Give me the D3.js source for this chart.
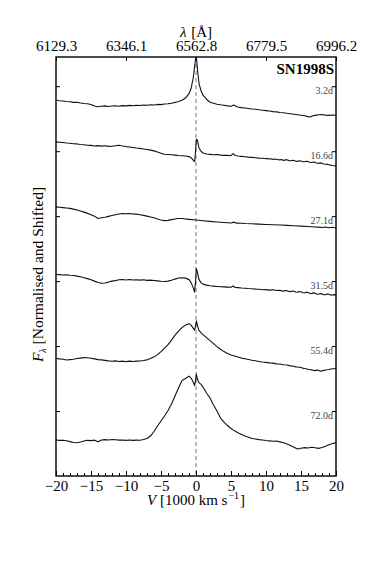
<!DOCTYPE html>
<html>
<head>
<meta charset="utf-8">
<script src="https://cdn.jsdelivr.net/npm/d3@7"></script>
<style>
  html, body { margin: 0; padding: 0; background: #fff; }
  svg text { font-family: "Liberation Serif", "Times New Roman", Times, serif; }
</style>
</head>
<body>
<svg id="chart" width="374" height="561"></svg>
<script>
// velocity in 1000 km/s, flux normalised and shifted (one unit per offset step)
const spec3d2 = [[-20,5.785],[-19.5,5.777],[-19,5.772],[-18.5,5.766],[-18,5.762],[-17.5,5.751],[-17,5.754],[-16.5,5.742],[-16,5.735],[-15.5,5.731],[-15,5.720],[-14.5,5.695],[-14,5.685],[-13.5,5.692],[-13,5.698],[-12.5,5.689],[-12,5.695],[-11.5,5.700],[-11,5.692],[-10.5,5.702],[-10,5.697],[-9.5,5.705],[-9,5.700],[-8.5,5.708],[-8,5.703],[-7.5,5.711],[-7,5.706],[-6.5,5.715],[-6,5.711],[-5.5,5.720],[-5,5.717],[-4.5,5.726],[-4,5.731],[-3.5,5.738],[-3,5.751],[-2.5,5.766],[-2,5.785],[-1.5,5.818],[-1,5.885],[-0.7,5.969],[-0.4,6.123],[-0.2,6.308],[-0.05,6.431],[0.1,6.400],[0.25,6.215],[0.45,6.031],[0.7,5.938],[1,5.862],[1.5,5.800],[2,5.754],[2.5,5.738],[3,5.723],[3.5,5.714],[4,5.708],[4.5,5.698],[5,5.692],[5.4,5.711],[5.8,5.688],[6,5.680],[6.5,5.671],[7,5.665],[7.5,5.657],[8,5.649],[8.5,5.646],[9,5.637],[9.5,5.631],[10,5.625],[10.5,5.618],[11,5.609],[11.5,5.605],[12,5.595],[12.5,5.591],[13,5.583],[13.5,5.577],[14,5.569],[14.5,5.562],[15,5.554],[15.5,5.545],[16,5.532],[16.3,5.526],[16.6,5.542],[17,5.551],[17.5,5.560],[18,5.565],[18.5,5.555],[19,5.551],[19.5,5.557],[20,5.554]];
const spec16d6 = [[-20,5.143],[-19.5,5.138],[-19,5.134],[-18.5,5.126],[-18,5.123],[-17.5,5.115],[-17,5.112],[-16.5,5.103],[-16,5.100],[-15.5,5.092],[-15,5.089],[-14.5,5.080],[-14,5.086],[-13.5,5.078],[-13,5.083],[-12.5,5.074],[-12,5.077],[-11.5,5.085],[-11,5.091],[-10.5,5.080],[-10,5.071],[-9.5,5.065],[-9,5.057],[-8.5,5.049],[-8,5.043],[-7.5,5.034],[-7,5.026],[-6.5,5.017],[-6,5.005],[-5.5,4.988],[-5,4.969],[-4.5,4.954],[-4,4.949],[-3.5,4.945],[-3,4.940],[-2.5,4.934],[-2,4.931],[-1.5,4.926],[-1,4.917],[-0.7,4.900],[-0.4,4.862],[-0.2,4.838],[-0.05,5.015],[0.05,5.185],[0.2,5.169],[0.4,5.062],[0.7,5.000],[1,4.972],[1.5,4.957],[2,4.951],[2.5,4.945],[3,4.948],[3.5,4.940],[4,4.935],[4.5,4.937],[5,4.931],[5.3,4.962],[5.6,4.934],[6,4.926],[6.5,4.920],[7,4.915],[7.5,4.909],[8,4.905],[8.5,4.900],[9,4.894],[9.5,4.891],[10,4.883],[10.25,4.889],[10.5,4.880],[10.75,4.884],[11,4.872],[11.25,4.879],[11.5,4.875],[11.75,4.868],[12,4.866],[12.25,4.872],[12.5,4.858],[12.75,4.866],[13,4.869],[13.25,4.855],[13.5,4.852],[13.75,4.861],[14,4.857],[14.25,4.846],[14.5,4.843],[14.75,4.852],[15,4.848],[15.25,4.838],[15.5,4.837],[15.75,4.845],[16,4.840],[16.25,4.829],[16.5,4.825],[16.75,4.834],[17,4.829],[17.25,4.818],[17.5,4.812],[17.75,4.820],[18,4.815],[18.25,4.804],[18.5,4.800],[18.75,4.797],[19,4.791],[19.25,4.786],[19.5,4.780],[19.75,4.776],[20,4.769]];
const spec27d1 = [[-20,4.143],[-19.5,4.138],[-19,4.132],[-18.5,4.126],[-18,4.120],[-17.5,4.108],[-17,4.095],[-16.5,4.080],[-16,4.062],[-15.5,4.043],[-15,4.023],[-14.5,4.000],[-14,3.965],[-13.5,3.975],[-13,3.982],[-12.5,3.997],[-12,4.011],[-11.5,4.022],[-11,4.034],[-10.5,4.040],[-10,4.037],[-9.5,4.042],[-9,4.034],[-8.5,4.031],[-8,4.022],[-7.5,4.012],[-7,4.000],[-6.5,3.988],[-6,3.975],[-5.5,3.957],[-5,3.942],[-4.5,3.931],[-4,3.935],[-3.5,3.946],[-3,3.957],[-2.5,3.965],[-2,3.963],[-1,3.951],[0,3.940],[1,3.929],[2,3.920],[3,3.911],[4,3.903],[5,3.895],[5.4,3.908],[5.8,3.892],[6.5,3.891],[7,3.886],[8,3.883],[9,3.877],[10,3.872],[11,3.868],[12,3.863],[13,3.858],[14,3.852],[15,3.846],[16,3.840],[17,3.834],[17.5,3.831],[18,3.826],[18.5,3.834],[19,3.822],[19.5,3.828],[20,3.818]];
const spec31d5 = [[-20,3.103],[-19.5,3.100],[-19,3.095],[-18.5,3.098],[-18,3.091],[-17.5,3.086],[-17,3.077],[-16.5,3.066],[-16,3.052],[-15.5,3.038],[-15,3.022],[-14.5,3.000],[-14,2.980],[-13.5,2.966],[-13,2.972],[-12.5,2.985],[-12,3.000],[-11.5,3.008],[-11,3.022],[-10.5,3.026],[-10,3.018],[-9.5,3.025],[-9,3.017],[-8.5,3.022],[-8,3.015],[-7.5,3.020],[-7,3.012],[-6.5,3.015],[-6,3.009],[-5.5,3.003],[-5,2.997],[-4.5,2.995],[-4,3.000],[-3.5,3.012],[-3,3.031],[-2.5,3.048],[-2,3.052],[-1.5,3.046],[-1,3.023],[-0.7,2.977],[-0.4,2.900],[-0.2,2.831],[-0.05,3.015],[0.05,3.192],[0.2,3.138],[0.4,3.031],[0.7,2.977],[1,2.954],[1.5,2.938],[2,2.929],[2.5,2.923],[3,2.918],[3.5,2.914],[4,2.911],[4.5,2.908],[5,2.905],[5.3,2.925],[5.6,2.902],[6,2.900],[6.5,2.894],[7,2.891],[7.5,2.886],[8,2.883],[8.5,2.877],[9,2.874],[9.5,2.868],[10,2.869],[10.5,2.862],[11,2.868],[11.5,2.855],[12,2.858],[12.25,2.850],[12.5,2.846],[12.75,2.855],[13,2.852],[13.25,2.840],[13.5,2.838],[13.75,2.849],[14,2.845],[14.25,2.832],[14.5,2.828],[14.75,2.840],[15,2.837],[15.25,2.822],[15.5,2.818],[15.75,2.830],[16,2.825],[16.25,2.812],[16.5,2.808],[16.75,2.819],[17,2.814],[17.25,2.800],[17.5,2.797],[17.75,2.808],[18,2.803],[18.25,2.790],[18.5,2.792],[18.75,2.801],[19,2.797],[19.25,2.785],[19.5,2.786],[19.75,2.792],[20,2.785]];
const spec55d4 = [[-20,1.811],[-19.5,1.803],[-19,1.797],[-18.5,1.785],[-18,1.791],[-17.5,1.797],[-17,1.808],[-16.5,1.815],[-16,1.822],[-15.5,1.820],[-15,1.812],[-14.5,1.803],[-14,1.792],[-13.5,1.788],[-13,1.780],[-12.5,1.772],[-12,1.766],[-11.5,1.772],[-11,1.762],[-10.5,1.769],[-10,1.760],[-9.5,1.768],[-9,1.762],[-8.5,1.769],[-8,1.771],[-7.5,1.777],[-7,1.788],[-6.5,1.808],[-6,1.834],[-5.5,1.868],[-5,1.915],[-4.5,1.969],[-4,2.023],[-3.5,2.092],[-3,2.169],[-2.5,2.231],[-2,2.285],[-1.5,2.323],[-1,2.345],[-0.7,2.323],[-0.4,2.277],[-0.2,2.246],[-0.05,2.308],[0.05,2.388],[0.2,2.323],[0.4,2.246],[0.7,2.208],[1,2.177],[1.5,2.131],[2,2.085],[2.5,2.038],[3,1.992],[3.5,1.951],[4,1.915],[4.5,1.885],[5,1.862],[5.5,1.846],[6,1.831],[6.5,1.815],[7,1.805],[7.5,1.794],[8,1.782],[8.5,1.774],[9,1.763],[9.5,1.755],[10,1.749],[10.5,1.742],[11,1.737],[11.5,1.726],[12,1.723],[12.5,1.712],[13,1.708],[13.5,1.695],[14,1.689],[14.25,1.680],[14.5,1.677],[14.75,1.674],[15,1.669],[15.25,1.660],[15.5,1.655],[15.75,1.651],[16,1.643],[16.25,1.640],[16.5,1.634],[16.75,1.629],[17,1.622],[17.25,1.630],[17.5,1.628],[17.75,1.614],[18,1.618],[18.25,1.626],[18.5,1.631],[18.75,1.635],[19,1.640],[19.25,1.646],[19.5,1.652],[19.75,1.650],[20,1.657]];
const spec72d0 = [[-20,0.554],[-19.5,0.548],[-19,0.551],[-18.5,0.542],[-18,0.529],[-17.5,0.515],[-17,0.511],[-16.5,0.523],[-16,0.538],[-15.5,0.549],[-15,0.545],[-14.5,0.552],[-14,0.526],[-13.5,0.554],[-13,0.560],[-12.5,0.555],[-12,0.562],[-11.5,0.557],[-11,0.552],[-10.5,0.555],[-10,0.549],[-9.5,0.554],[-9,0.548],[-8.5,0.552],[-8,0.551],[-7.5,0.562],[-7,0.577],[-6.5,0.615],[-6,0.685],[-5.5,0.769],[-5,0.846],[-4.5,0.923],[-4,1.008],[-3.5,1.108],[-3,1.231],[-2.5,1.354],[-2,1.469],[-1.5,1.500],[-1,1.538],[-0.7,1.508],[-0.4,1.446],[-0.2,1.392],[-0.05,1.477],[0.05,1.566],[0.2,1.492],[0.4,1.438],[0.7,1.415],[1,1.369],[1.5,1.277],[2,1.200],[2.5,1.092],[3,1.000],[3.5,0.892],[4,0.831],[4.5,0.777],[5,0.731],[5.5,0.695],[6,0.665],[6.5,0.638],[7,0.615],[7.5,0.597],[8,0.577],[8.5,0.569],[9,0.560],[9.5,0.554],[10,0.546],[10.5,0.540],[11,0.534],[11.5,0.538],[12,0.525],[12.5,0.511],[13,0.492],[13.5,0.469],[14,0.443],[14.5,0.415],[15,0.428],[15.5,0.437],[16,0.431],[16.5,0.443],[17,0.434],[17.5,0.425],[18,0.438],[18.5,0.458],[19,0.480],[19.5,0.500],[20,0.514]];

const spectra = [spec3d2, spec16d6, spec27d1, spec31d5, spec55d4, spec72d0];
const epochLabels = ['3.2d', '16.6d', '27.1d', '31.5d', '55.4d', '72.0d'];
const labelLevels = [6, 5, 4, 3, 2, 1];
const offsetTicks = [1, 2, 3, 4, 5, 6];
const velTicks = [-20, -15, -10, -5, 0, 5, 10, 15, 20];
const lambdaTicks = [-20, -10, 0, 10, 20];
const lambdaLabels = ['6129.3', '6346.1', '6562.8', '6779.5', '6996.2'];

const svg = d3.select('#chart');
const margin = { top: 57, right: 38, bottom: 85, left: 56 };
const width = 374 - margin.left - margin.right;
const height = 561 - margin.top - margin.bottom;

const g = svg.append('g').attr('transform', `translate(${margin.left},${margin.top})`);

const x = d3.scaleLinear().domain([-20, 20]).range([0, width]);
const y = d3.scaleLinear().domain([0, 6.45]).range([height, 0]);

// dashed rest-velocity line
g.append('line')
    .attr('x1', x(0)).attr('x2', x(0))
    .attr('y1', 0).attr('y2', height)
    .attr('stroke', '#666')
    .attr('stroke-width', 0.9)
    .attr('stroke-dasharray', '4,3');

const line = d3.line()
    .x(d => x(d[0]))
    .y(d => y(d[1]));

g.selectAll('.spec')
    .data(spectra)
    .enter()
    .append('path')
    .attr('class', 'spec')
    .attr('d', line)
    .attr('fill', 'none')
    .attr('stroke', '#111')
    .attr('stroke-width', 1.1)
    .attr('stroke-linejoin', 'round');

// epoch labels
g.selectAll('.epoch')
    .data(epochLabels)
    .enter()
    .append('text')
    .attr('class', 'epoch')
    .attr('x', width - 3)
    .attr('y', (d, i) => y(labelLevels[i]) + 7.5)
    .attr('text-anchor', 'end')
    .attr('font-size', 10)
    .attr('fill', '#444')
    .text(d => d);

g.append('text')
    .attr('x', width - 2)
    .attr('y', 17)
    .attr('text-anchor', 'end')
    .attr('font-size', 15)
    .attr('font-weight', 'bold')
    .attr('fill', '#000')
    .text('SN1998S');

// axes
const styleAxis = sel => {
    sel.attr('font-family', null);
    sel.select('.domain').remove();
    sel.selectAll('.tick line').attr('stroke', '#000').attr('stroke-width', 1);
    sel.selectAll('.tick text')
        .attr('font-size', 15)
        .attr('fill', '#000');
};

g.append('g')
    .attr('transform', `translate(0,${height})`)
    .call(d3.axisBottom(x).ticks(40).tickSizeInner(-3).tickSizeOuter(0).tickFormat(''))
    .call(styleAxis);

g.append('g')
    .attr('transform', `translate(0,${height})`)
    .call(d3.axisBottom(x).tickValues(velTicks).tickSizeInner(-5).tickSizeOuter(0).tickPadding(4)
        .tickFormat(d => d < 0 ? '\u2212' + Math.abs(d) : d))
    .call(styleAxis);

g.append('g')
    .call(d3.axisTop(x).tickValues(lambdaTicks).tickSizeInner(-4).tickSizeOuter(0).tickPadding(6.5)
        .tickFormat((d, i) => lambdaLabels[i]))
    .call(styleAxis);

g.append('g')
    .call(d3.axisLeft(y).tickValues(offsetTicks).tickSizeInner(-4).tickSizeOuter(0).tickFormat(''))
    .call(styleAxis);

g.append('g')
    .attr('transform', `translate(${width},0)`)
    .call(d3.axisRight(y).tickValues(offsetTicks).tickSizeInner(-4).tickSizeOuter(0).tickFormat(''))
    .call(styleAxis);

g.append('rect')
    .attr('width', width)
    .attr('height', height)
    .attr('fill', 'none')
    .attr('stroke', '#000')
    .attr('stroke-width', 1.4);

// axis titles
const xTitle = g.append('text')
    .attr('x', width / 2)
    .attr('y', height + 29)
    .attr('text-anchor', 'middle')
    .attr('font-size', 15);
xTitle.append('tspan').attr('font-style', 'italic').text('V');
xTitle.append('tspan').text(' [1000 km s');
xTitle.append('tspan').attr('font-size', 10).attr('dx', 1).attr('dy', -6).text('\u22121');
xTitle.append('tspan').attr('dx', 1).attr('dy', 6).text(']');

const topTitle = g.append('text')
    .attr('x', width / 2)
    .attr('y', -20)
    .attr('text-anchor', 'middle')
    .attr('font-size', 15);
topTitle.append('tspan').attr('font-style', 'italic').text('\u03bb');
topTitle.append('tspan').attr('dx', 1).text(' [\u00c5]');

const yTitle = g.append('text')
    .attr('transform', `translate(-13,${height / 2 + 8}) rotate(-90)`)
    .attr('text-anchor', 'middle')
    .attr('font-size', 15.5);
yTitle.append('tspan').attr('font-style', 'italic').text('F');
yTitle.append('tspan').attr('font-style', 'italic').attr('font-size', 10).attr('dy', 3).text('\u03bb');
yTitle.append('tspan').attr('dy', -3).text(' [Normalised and Shifted]');
</script>
</body>
</html>
